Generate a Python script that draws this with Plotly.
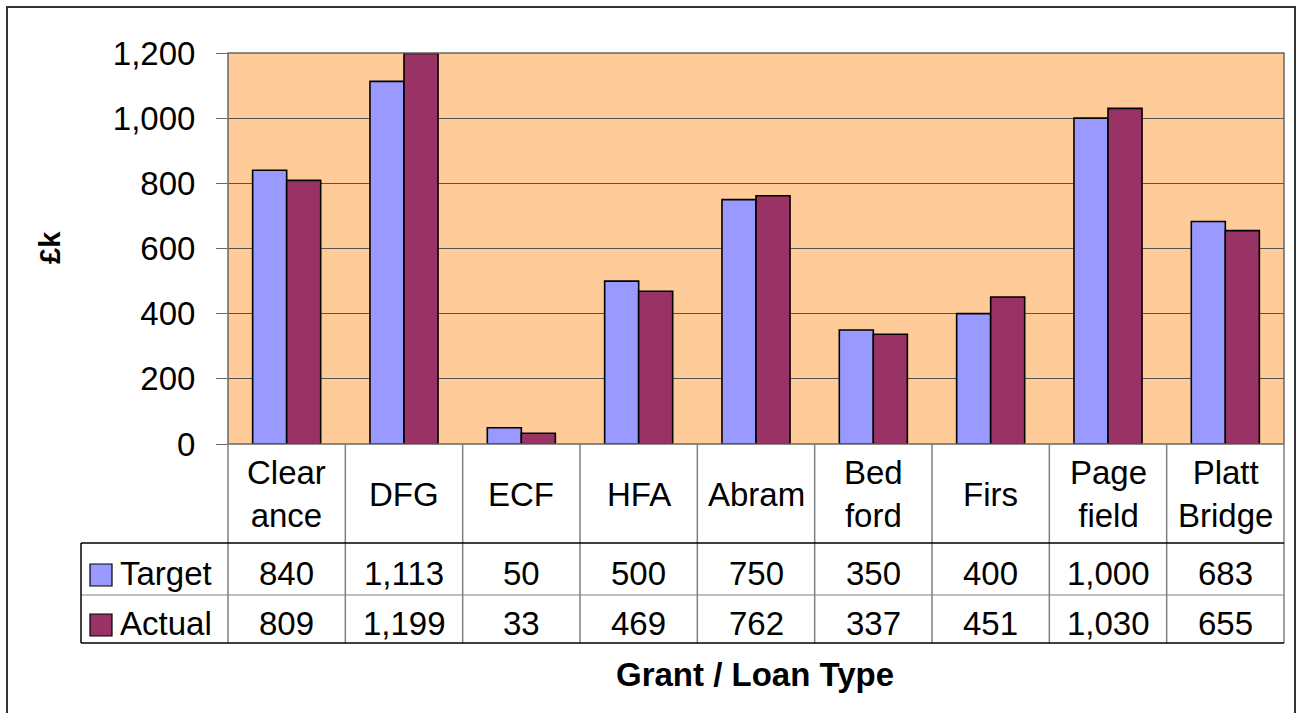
import plotly.graph_objects as go

categories = ["Clear<br>ance", "DFG", "ECF", "HFA", "Abram", "Bed<br>ford", "Firs", "Page<br>field", "Platt<br>Bridge"]
target = [840, 1113, 50, 500, 750, 350, 400, 1000, 683]
actual = [809, 1199, 33, 469, 762, 337, 451, 1030, 655]
series_names = ["Target", "Actual"]
y_ticks = [0, 200, 400, 600, 800, 1000, 1200]

W, H = 1299, 713
L, R, T, B = 228, 1284, 53, 444
FONT = "Liberation Sans, Arial, sans-serif"
FS = 33
C_T = "#9999FF"
C_A = "#993366"

def px(x):
    return (x - L) / (R - L)

def py(y):
    return (B - y) / (B - T)

idx = list(range(len(categories)))
fig = go.Figure()
fig.add_bar(x=idx, y=target, name=series_names[0], marker=dict(color=C_T, line=dict(color="black", width=1.6)))
fig.add_bar(x=idx, y=actual, name=series_names[1], marker=dict(color=C_A, line=dict(color="black", width=1.6)))

shapes = []
# outer border
shapes.append(dict(type="rect", xref="paper", yref="paper", x0=px(7), x1=px(1295), y0=py(730), y1=py(7),
                   line=dict(color="#333333", width=2), fillcolor="rgba(0,0,0,0)", layer="below"))
# plot area border
shapes.append(dict(type="rect", xref="paper", yref="paper", x0=0, x1=1, y0=0, y1=1,
                   line=dict(color="#666666", width=1.5)))
# table: category header row vertical lines
n = len(categories)
for i in range(n + 1):
    xx = px(L + (R - L) * i / n)
    shapes.append(dict(type="line", xref="paper", yref="paper", x0=xx, x1=xx, y0=py(444), y1=py(643),
                       line=dict(color="#808080", width=1.5)))
# data rows
shapes.append(dict(type="line", xref="paper", yref="paper", x0=px(81), x1=1, y0=py(543), y1=py(543),
                   line=dict(color="black", width=1.5)))
shapes.append(dict(type="line", xref="paper", yref="paper", x0=px(81), x1=1, y0=py(595), y1=py(595),
                   line=dict(color="#808080", width=1.2)))
shapes.append(dict(type="line", xref="paper", yref="paper", x0=px(81), x1=1, y0=py(643), y1=py(643),
                   line=dict(color="black", width=1.5)))
shapes.append(dict(type="line", xref="paper", yref="paper", x0=px(81), x1=px(81), y0=py(543), y1=py(643),
                   line=dict(color="black", width=1.5)))
# legend keys
for k, (c, yc) in enumerate([(C_T, 575), (C_A, 625)]):
    shapes.append(dict(type="rect", xref="paper", yref="paper", x0=px(90), x1=px(112), y0=py(yc + 11), y1=py(yc - 11),
                       fillcolor=c, line=dict(color="black", width=1.2)))

annotations = []
for i, c in enumerate(categories):
    annotations.append(dict(x=i, xref="x", y=py(494), yref="paper", text=c, showarrow=False,
                            font=dict(family=FONT, size=FS, color="black"), xanchor="center", yanchor="middle"))
    annotations.append(dict(x=i, xref="x", y=py(573), yref="paper", text=f"{target[i]:,}", showarrow=False,
                            font=dict(family=FONT, size=FS, color="black"), xanchor="center", yanchor="middle"))
    annotations.append(dict(x=i, xref="x", y=py(623), yref="paper", text=f"{actual[i]:,}", showarrow=False,
                            font=dict(family=FONT, size=FS, color="black"), xanchor="center", yanchor="middle"))
for name, yc in zip(series_names, [573, 623]):
    annotations.append(dict(x=px(118), xref="paper", y=py(yc), yref="paper", text=name, showarrow=False,
                            font=dict(family=FONT, size=FS, color="black"), xanchor="left", yanchor="middle"))
annotations.append(dict(x=px(755), xref="paper", y=py(674), yref="paper", text="<b>Grant / Loan Type</b>",
                        showarrow=False, font=dict(family=FONT, size=33, color="black"),
                        xanchor="center", yanchor="middle"))
annotations.append(dict(x=px(50), xref="paper", y=py(248), yref="paper", text="<b>£k</b>", textangle=-90,
                        showarrow=False, font=dict(family=FONT, size=29, color="black"),
                        xanchor="center", yanchor="middle"))

fig.update_layout(
    width=W, height=H, autosize=False,
    margin=dict(l=L, r=W - R, t=T, b=H - B),
    paper_bgcolor="white", plot_bgcolor="#FFCC99",
    barmode="group", bargap=0.42, bargroupgap=0,
    showlegend=False,
    shapes=shapes, annotations=annotations,
    xaxis=dict(range=[-0.5, n - 0.5], showticklabels=False, showgrid=False, zeroline=False, ticks=""),
    yaxis=dict(range=[0, 1200], tickvals=y_ticks, tickformat=",d", showgrid=True, gridcolor="#555555", gridwidth=1,
               zeroline=False, ticks="outside", ticklen=11, tickcolor="#666666", ticklabelstandoff=14,
               tickfont=dict(family=FONT, size=FS, color="black"), showline=False),
    font=dict(family=FONT),
)

fig.write_html("out.html", config={"displayModeBar": False},
               post_script="document.body.style.margin='0';document.body.style.padding='0';document.body.style.overflow='hidden';")
